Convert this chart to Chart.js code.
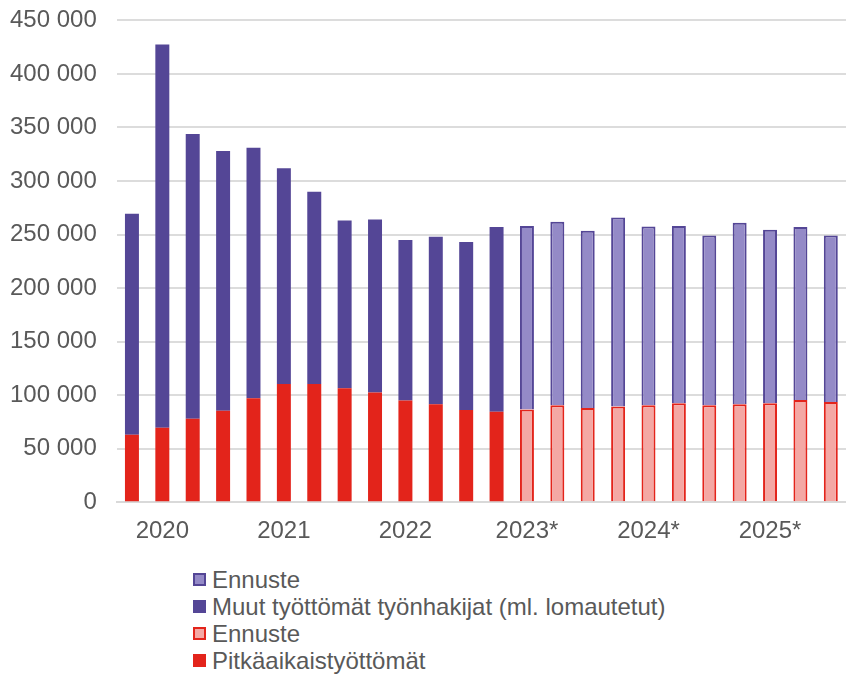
<!DOCTYPE html>
<html>
<head>
<meta charset="utf-8">
<script src="https://cdn.jsdelivr.net/npm/chart.js@4.4.1/dist/chart.umd.min.js"></script>
<style>
  body { margin: 0; background: #fff; }
  #wrap { position: relative; width: 846px; height: 674px; overflow: hidden; font-family: "Liberation Sans", Arial, sans-serif; }
  #chartBox { position: absolute; left: -26px; top: -14px; width: 872px; height: 571px; }
  #legend { position: absolute; left: 193px; top: 566px; margin: 0; padding: 0; list-style: none; }
  #legend li { height: 27px; display: flex; align-items: center; font-size: 24px; color: #595959; }
  #legend span.box { display: inline-block; box-sizing: border-box; width: 13px; height: 13px; margin-right: 6px; }
</style>
</head>
<body>
<div id="wrap">
  <div id="chartBox"><canvas id="chart"></canvas></div>
  <ul id="legend"></ul>
</div>
<script>
// quarterly, 2020 Q1 .. 2025 Q4; year shown under the 2nd quarter
const yearTicks = ["", "2020", "", "", "", "2021", "", "", "", "2022", "", "", "",
                   "2023*", "", "", "", "2024*", "", "", "", "2025*", "", ""];

// toteutunut 2020 Q1 - 2023 Q1
const pitkaaikaiset = [63000, 69500, 78000, 85500, 97000, 110500, 110500, 106500, 102500, 95000, 91500, 86000, 84500];
const muutTyottomat = [206500, 358000, 266000, 242500, 234000, 201500, 179500, 156500, 161500, 150000, 156500, 157000, 172500];

// ennuste 2023 Q2 - 2025 Q4
const ennustePitka = [86500, 90500, 88000, 89500, 90500, 92500, 90500, 91500, 92500, 95500, 93500];
const ennusteMuut = [171500, 171500, 165500, 176500, 167000, 165500, 158500, 169500, 162000, 161500, 155500];

const n = yearTicks.length;
const actual = (arr) => arr.concat(Array(n - arr.length).fill(null));
const forecast = (arr) => Array(n - arr.length).fill(null).concat(arr);

const fmt = (v) => String(v).replace(/\B(?=(\d{3})+(?!\d))/g, " ");

Chart.defaults.font.family = '"Liberation Sans", Arial, sans-serif';
Chart.defaults.color = "#595959";

const data = {
    labels: yearTicks,
    datasets: [
        {
            label: "Pitkäaikaistyöttömät",
            data: actual(pitkaaikaiset),
            backgroundColor: "#e3241b",
            borderWidth: 0,
        }, {
            label: "Ennuste",
            data: forecast(ennustePitka),
            backgroundColor: "#f4a8a4",
            borderColor: "#e3241b",
            borderWidth: 2,
        }, {
            label: "Muut työttömät työnhakijat (ml. lomautetut)",
            data: actual(muutTyottomat),
            backgroundColor: "#544696",
            borderWidth: 0,
        }, {
            label: "Ennuste",
            data: forecast(ennusteMuut),
            backgroundColor: "#948ac7",
            borderColor: "#544696",
            borderWidth: 2,
        }
    ],
};

const chart = new Chart(document.getElementById("chart"), {
    type: "bar",
    data: data,
    options: {
        responsive: true,
        maintainAspectRatio: false,
        animation: false,
        datasets: {
            bar: {categoryPercentage: 1, barPercentage: 0.46},
        },
        layout: {
            padding: {top: 6, right: 0, bottom: 4, left: 16},
        },
        plugins: {
            legend: {display: false},
            tooltip: {enabled: false},
        },
        scales: {
            x: {
                stacked: true,
                grid: {display: false},
                border: {color: "#d9d9d9", width: 2},
                ticks: {
                    autoSkip: false,
                    maxRotation: 0,
                    padding: 7,
                    font: {size: 24},
                },
            },
            y: {
                stacked: true,
                min: 0,
                max: 450000,
                border: {display: false},
                grid: {color: "#dcdcdc", lineWidth: 2, drawTicks: false},
                ticks: {
                    stepSize: 50000,
                    padding: 20,
                    font: {size: 24},
                    callback: (value) => fmt(value),
                },
            },
        },
    },
});

// vertical legend, reversed like the original
const legendEl = document.getElementById("legend");
chart.data.datasets.slice().reverse().forEach((ds) => {
    const li = document.createElement("li");
    const box = document.createElement("span");
    box.className = "box";
    box.style.background = ds.backgroundColor;
    if (ds.borderWidth) box.style.border = "2px solid " + ds.borderColor;
    li.appendChild(box);
    li.appendChild(document.createTextNode(ds.label));
    legendEl.appendChild(li);
});
</script>
</body>
</html>
